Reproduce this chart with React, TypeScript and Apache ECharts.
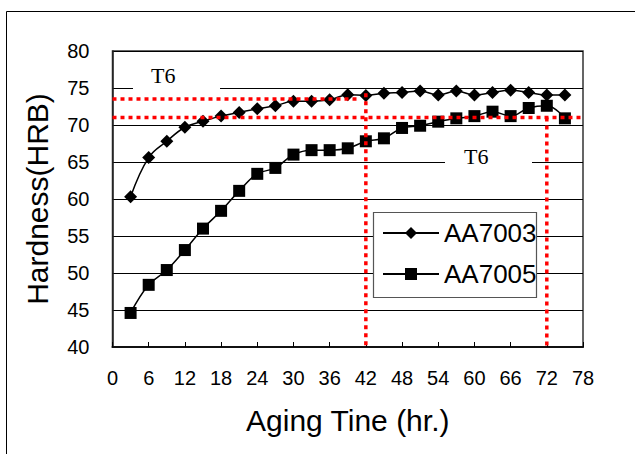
import React, { useEffect, useRef } from "react";
import * as echarts from "echarts";

const FONT = "'Liberation Sans', Arial, sans-serif";
const SERIF = "'Liberation Serif', 'Times New Roman', serif";

// Aging time (hr.)
const hours = [3, 6, 9, 12, 15, 18, 21, 24, 27, 30, 33, 36, 39, 42, 45, 48, 51, 54, 57, 60, 63, 66, 69, 72, 75];

// Hardness (HRB)
const aa7003 = [60.3, 65.6, 67.8, 69.7, 70.5, 71.2, 71.7, 72.2, 72.6, 73.2, 73.2, 73.4, 74.1, 74.0, 74.3, 74.4, 74.6, 74.05, 74.6, 74.05, 74.4, 74.7, 74.4, 74.05, 74.05];
const aa7005 = [44.6, 48.4, 50.4, 53.1, 56.0, 58.4, 61.1, 63.4, 64.2, 66.0, 66.6, 66.6, 66.85, 67.8, 68.2, 69.6, 69.9, 70.45, 70.9, 71.2, 71.8, 71.2, 72.3, 72.6, 70.9];

const seriesNames = ["AA7003", "AA7005"];

// Red dotted guide segments: [x, hardness] endpoints
const guideSegments: number[][][] = [
  [[0, 73.5], [41, 73.5]],
  [[42, 74.3], [42, 40]],
  [[0, 71.0], [78, 71.0]],
  [[72, 71.0], [72, 40]],
];

const xMin = 0, xMax = 78, xStep = 6;
const yMin = 40, yMax = 80, yStep = 5;

export default function App() {
  const ref = useRef<HTMLDivElement>(null);
  useEffect(() => {
    const chart = echarts.init(ref.current!, null, { renderer: "svg" });
    const guideSeries = guideSegments.map((seg, i) => ({
      name: "guide" + i,
      type: "line",
      data: seg,
      symbol: "none",
      silent: true,
      lineStyle: { color: "#ff0000", width: 3.5, type: [4, 4] },
      z: 5,
    }));
    chart.setOption({
      animation: false,
      backgroundColor: "#fff",
      textStyle: { fontFamily: FONT },
      grid: {
        left: 112.5,
        right: 52,
        top: 51,
        bottom: 107,
        show: true,
        borderColor: "#333",
        borderWidth: 1.5,
      },
      xAxis: {
        type: "value",
        min: xMin,
        max: xMax,
        interval: xStep,
        name: "Aging Tine (hr.)",
        nameLocation: "middle",
        nameGap: 58,
        nameTextStyle: { fontSize: 30, color: "#000", fontFamily: FONT },
        axisLine: { show: true, lineStyle: { color: "#111", width: 2 } },
        axisTick: { show: true, inside: true, length: 5, lineStyle: { color: "#000", width: 1 } },
        axisLabel: { fontSize: 20, color: "#000", margin: 21, fontFamily: FONT },
        splitLine: { show: false },
      },
      yAxis: {
        type: "value",
        min: yMin,
        max: yMax,
        interval: yStep,
        name: "Hardness(HRB)",
        nameLocation: "middle",
        nameGap: 60,
        nameTextStyle: { fontSize: 30, color: "#000", fontFamily: FONT },
        axisLine: { show: true, lineStyle: { color: "#222", width: 1.5 } },
        axisTick: { show: false },
        axisLabel: { fontSize: 20, color: "#000", margin: 23, fontFamily: FONT },
        splitLine: { show: true, lineStyle: { color: "#000", width: 1 } },
      },
      legend: {
        data: seriesNames,
        orient: "vertical",
        left: 373,
        top: 212,
        itemWidth: 56,
        itemHeight: 15,
        itemGap: 13,
        padding: [7, 3, 10, 9],
        backgroundColor: "transparent",
        borderWidth: 0,
        textStyle: { fontSize: 26, color: "#000", lineHeight: 28, fontFamily: FONT },
      },
      graphic: [
        {
          type: "rect",
          shape: { x: 6.5, y: 11.5, width: 700, height: 500 },
          style: { fill: "none", stroke: "#000", lineWidth: 1 },
          silent: true,
          z: 0,
        },
        {
          type: "rect",
          shape: { x: 373.5, y: 212.5, width: 163, height: 85 },
          style: { fill: "#fff", stroke: "#555", lineWidth: 1.2 },
          silent: true,
          z: 3,
        },
        {
          type: "rect",
          shape: { x: 133, y: 62, width: 87, height: 31 },
          style: { fill: "#fff" },
          silent: true,
          z: 1,
        },
        {
          type: "text",
          x: 151,
          y: 75.5,
          style: { text: "T6", fontSize: 22, fontFamily: SERIF, fill: "#000", align: "left", verticalAlign: "middle" },
          silent: true,
          z: 2,
        },
        {
          type: "rect",
          shape: { x: 445, y: 141, width: 87, height: 29 },
          style: { fill: "#fff" },
          silent: true,
          z: 1,
        },
        {
          type: "text",
          x: 464,
          y: 156.5,
          style: { text: "T6", fontSize: 22, fontFamily: SERIF, fill: "#000", align: "left", verticalAlign: "middle" },
          silent: true,
          z: 2,
        },
      ],
      series: [
        {
          name: seriesNames[0],
          type: "line",
          data: hours.map((h, i) => [h, aa7003[i]]),
          smooth: 0.4,
          symbol: "diamond",
          symbolSize: 13,
          itemStyle: { color: "#000" },
          lineStyle: { color: "#000", width: 1.5 },
          z: 3,
        },
        {
          name: seriesNames[1],
          type: "line",
          data: hours.map((h, i) => [h, aa7005[i]]),
          smooth: 0.4,
          symbol: "rect",
          symbolSize: 12,
          itemStyle: { color: "#000" },
          lineStyle: { color: "#000", width: 1.5 },
          z: 3,
        },
        ...guideSeries,
      ],
    });
    return () => chart.dispose();
  }, []);
  return (
    <div
      ref={ref}
      style={{ position: "fixed", left: 0, top: 0, width: 635, height: 454, background: "#fff" }}
    />
  );
}
